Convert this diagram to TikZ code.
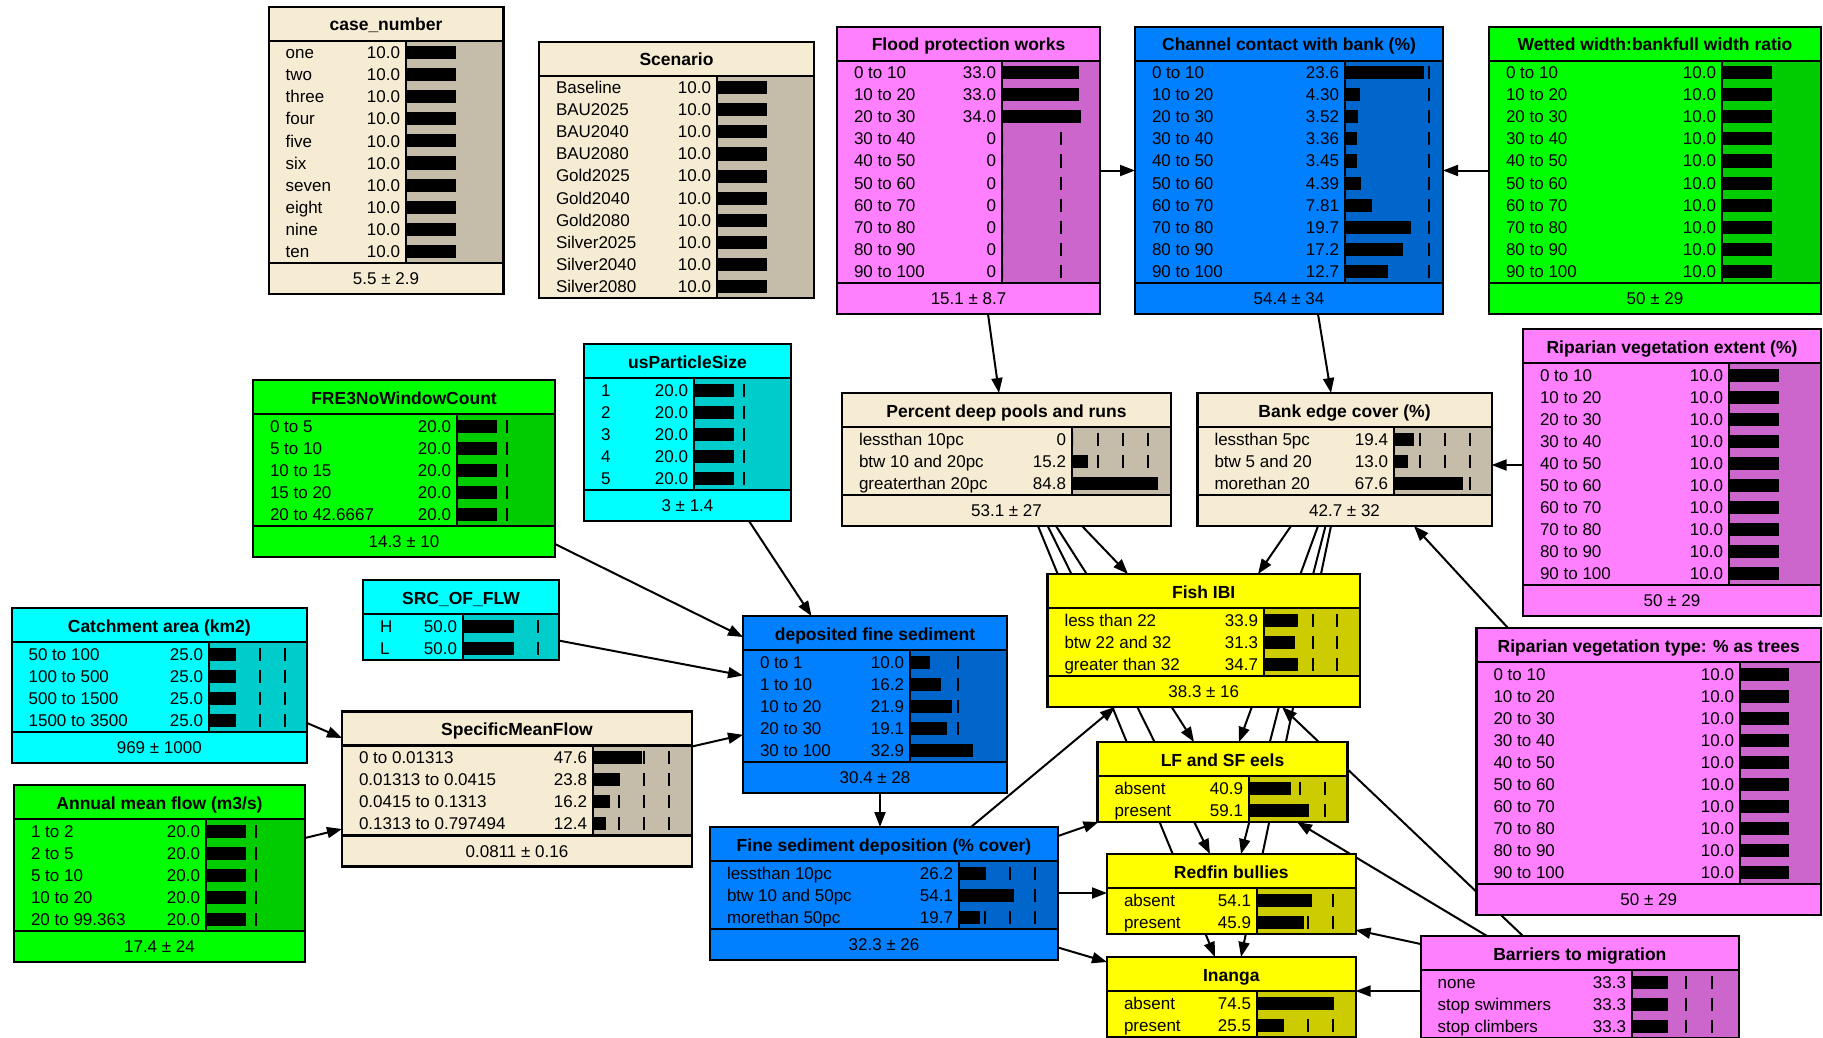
\documentclass[tikz,border=0pt]{standalone}
\usepackage{fontspec}
\setmainfont{Liberation Sans}
\usetikzlibrary{arrows.meta}
\pgfdeclarelayer{bg}
\pgfsetlayers{bg,main}

\definecolor{tanL}{HTML}{F6ECD4}
\definecolor{tanD}{HTML}{C5BDAA}
\definecolor{magL}{HTML}{FF80FF}
\definecolor{magD}{HTML}{CC66CC}
\definecolor{bluL}{HTML}{0080FF}
\definecolor{bluD}{HTML}{0066CC}
\definecolor{grnL}{HTML}{00FF00}
\definecolor{grnD}{HTML}{00CC00}
\definecolor{cyaL}{HTML}{00FFFF}
\definecolor{cyaD}{HTML}{00CCCC}
\definecolor{yelL}{HTML}{FFFF00}
\definecolor{yelD}{HTML}{CCCC00}

\pgfkeys{/bn/.cd,
 left/.store in=\bnL, top/.store in=\bnT, right/.store in=\bnR, div/.store in=\bnD,
 scale/.store in=\bnS, n/.store in=\bnN, fc/.store in=\bnF, dc/.store in=\bnDC,
 title/.store in=\bnTitle, foot/.store in=\bnFoot}

\tikzset{
 bntext/.style={inner sep=0pt, outer sep=0pt, font=\fontsize{17}{19}\selectfont},
 bntitle/.style={inner sep=0pt, outer sep=0pt, font=\fontsize{17.5}{19}\selectfont\bfseries, anchor=base},
 bnline/.style={line width=2.2pt},
 bngrid/.style={line width=2pt, dash pattern=on 13pt off 9pt, dash phase=16.5pt},
 bnframe/.style={draw, line width=2.2pt, inner sep=0pt, outer sep=0pt, fill=none},
 conn/.style={line width=2pt, -{Triangle[length=15pt,width=11pt]}}
}

\newcommand\bnnode[3]{%
 \def\bnFoot{}%
 \pgfkeys{/bn/.cd, #2}%
 \pgfmathsetmacro\bnTS{\bnT+34}%
 \pgfmathsetmacro\bnBB{\bnTS+22*\bnN+2}%
 \ifx\bnFoot\empty \let\bnB\bnBB \else \pgfmathsetmacro\bnB{\bnBB+31}\fi
 \pgfmathsetmacro\bnW{\bnR-\bnL}%
 \pgfmathsetmacro\bnH{\bnB-\bnT}%
 \pgfmathsetmacro\bnCX{(\bnL+\bnR)/2}%
 \pgfmathsetmacro\bnCY{(\bnT+\bnB)/2}%
 \fill[\bnF] (\bnL,\bnT) rectangle (\bnR,\bnB);
 \fill[\bnDC] (\bnD,\bnTS) rectangle (\bnR,\bnBB);
 \foreach \lab/\val [count=\i from 0] in {#3} {%
   \pgfmathsetmacro\yy{\bnTS+12+22*\i}%
   \node[bntext, anchor=base west] at (\bnL+17,\yy+6) {\lab};
   \node[bntext, anchor=base east] at (\bnD-6,\yy+6) {\val};
   \fill[black] (\bnD+1,\yy-6.5) rectangle ({\bnD+1+\bnS*\val},\yy+6.5);
 }%
 \foreach \g in {25,50,75} {%
   \pgfmathsetmacro\gx{\bnS*\g}%
   \pgfmathtruncatemacro\ok{(\gx < \bnR-\bnD-5) ? 1 : 0}%
   \ifnum\ok=1 \draw[bngrid] (\bnD+1+\gx,\bnTS) -- (\bnD+1+\gx,\bnBB);\fi
 }%
 \node[bntitle] at (\bnCX,\bnT+24) {\bnTitle};
 \draw[bnline] (\bnL,\bnTS) -- (\bnR,\bnTS);
 \draw[bnline] (\bnD,\bnTS) -- (\bnD,\bnBB);
 \ifx\bnFoot\empty\else
   \draw[bnline] (\bnL,\bnBB) -- (\bnR,\bnBB);
   \node[bntext, anchor=base] at (\bnCX,\bnBB+21.5) {\bnFoot};
 \fi
 \node[bnframe, minimum width=\bnW pt, minimum height=\bnH pt] (#1) at (\bnCX,\bnCY) {};
}

\begin{document}
\begin{tikzpicture}[x=1pt,y=-1pt]
\begin{pgfonlayer}{bg}
\fill[white] (0,0) rectangle (1823,1038);
\end{pgfonlayer}
\useasboundingbox (0,0) rectangle (1823,1038);

\bnnode{case}{left=268.6,top=7,right=503.4,div=406,scale=4.87,n=10,fc=tanL,dc=tanD,title=case\_number,foot=5.5 ± 2.9}
 {one/10.0,two/10.0,three/10.0,four/10.0,five/10.0,six/10.0,seven/10.0,eight/10.0,nine/10.0,ten/10.0}

\bnnode{scen}{left=539,top=42,right=814,div=717,scale=4.9,n=10,fc=tanL,dc=tanD,title=Scenario}
 {Baseline/10.0,BAU2025/10.0,BAU2040/10.0,BAU2080/10.0,Gold2025/10.0,Gold2040/10.0,Gold2080/10.0,Silver2025/10.0,Silver2040/10.0,Silver2080/10.0}

\bnnode{flood}{left=837,top=27,right=1100,div=1002,scale=2.3,n=10,fc=magL,dc=magD,title=Flood protection works,foot=15.1 ± 8.7}
 {0 to 10/33.0,10 to 20/33.0,20 to 30/34.0,30 to 40/0,40 to 50/0,50 to 60/0,60 to 70/0,70 to 80/0,80 to 90/0,90 to 100/0}

\bnnode{chan}{left=1135,top=27,right=1443,div=1345,scale=3.3,n=10,fc=bluL,dc=bluD,title=Channel contact with bank (\%),foot=54.4 ± 34}
 {0 to 10/23.6,10 to 20/4.30,20 to 30/3.52,30 to 40/3.36,40 to 50/3.45,50 to 60/4.39,60 to 70/7.81,70 to 80/19.7,80 to 90/17.2,90 to 100/12.7}

\bnnode{wet}{left=1489,top=27,right=1821,div=1722,scale=4.9,n=10,fc=grnL,dc=grnD,title=Wetted width:bankfull width ratio,foot=50 ± 29}
 {0 to 10/10.0,10 to 20/10.0,20 to 30/10.0,30 to 40/10.0,40 to 50/10.0,50 to 60/10.0,60 to 70/10.0,70 to 80/10.0,80 to 90/10.0,90 to 100/10.0}

\bnnode{uspart}{left=584,top=344,right=791,div=694,scale=1.95,n=5,fc=cyaL,dc=cyaD,title=usParticleSize,foot=3 ± 1.4}
 {1/20.0,2/20.0,3/20.0,4/20.0,5/20.0}

\bnnode{fre3}{left=253,top=380,right=555,div=457,scale=1.95,n=5,fc=grnL,dc=grnD,title=FRE3NoWindowCount,foot=14.3 ± 10}
 {0 to 5/20.0,5 to 10/20.0,10 to 15/20.0,15 to 20/20.0,20 to 42.6667/20.0}

\bnnode{src}{left=363,top=580,right=559,div=463,scale=0.98,n=2,fc=cyaL,dc=cyaD,title=SRC\_OF\_FLW}
 {H/50.0,L/50.0}

\bnnode{catchm}{left=11.6,top=608,right=307,div=209,scale=1.0,n=4,fc=cyaL,dc=cyaD,title=Catchment area (km2),foot=969 ± 1000}
 {50 to 100/25.0,100 to 500/25.0,500 to 1500/25.0,1500 to 3500/25.0}

\bnnode{annual}{left=14,top=785,right=305,div=206,scale=1.95,n=5,fc=grnL,dc=grnD,title=Annual mean flow (m3/s),foot=17.4 ± 24}
 {1 to 2/20.0,2 to 5/20.0,5 to 10/20.0,10 to 20/20.0,20 to 99.363/20.0}

\bnnode{smf}{left=342,top=711.5,right=692,div=593,scale=1.0,n=4,fc=tanL,dc=tanD,title=SpecificMeanFlow,foot=0.0811 ± 0.16}
 {0 to 0.01313/47.6,0.01313 to 0.0415/23.8,0.0415 to 0.1313/16.2,0.1313 to 0.797494/12.4}

\bnnode{dep}{left=743,top=616,right=1007,div=910,scale=1.88,n=5,fc=bluL,dc=bluD,title=deposited fine sediment,foot=30.4 ± 28}
 {0 to 1/10.0,1 to 10/16.2,10 to 20/21.9,20 to 30/19.1,30 to 100/32.9}

\bnnode{fsd}{left=710,top=827,right=1058,div=959,scale=1.0,n=3,fc=bluL,dc=bluD,title=Fine sediment deposition (\% cover),foot=32.3 ± 26}
 {lessthan 10pc/26.2,btw 10 and 50pc/54.1,morethan 50pc/19.7}

\bnnode{pools}{left=842,top=393,right=1171,div=1072,scale=1.0,n=3,fc=tanL,dc=tanD,title=Percent deep pools and runs,foot=53.1 ± 27}
 {lessthan 10pc/0,btw 10 and 20pc/15.2,greaterthan 20pc/84.8}

\bnnode{bank}{left=1197.5,top=393,right=1491.6,div=1394,scale=1.0,n=3,fc=tanL,dc=tanD,title=Bank edge cover (\%),foot=42.7 ± 32}
 {lessthan 5pc/19.4,btw 5 and 20/13.0,morethan 20/67.6}

\bnnode{ripext}{left=1523,top=329,right=1821,div=1729,scale=4.9,n=10,fc=magL,dc=magD,title=Riparian vegetation extent (\%),foot=50 ± 29}
 {0 to 10/10.0,10 to 20/10.0,20 to 30/10.0,30 to 40/10.0,40 to 50/10.0,50 to 60/10.0,60 to 70/10.0,70 to 80/10.0,80 to 90/10.0,90 to 100/10.0}

\bnnode{riptype}{left=1476.5,top=628,right=1821,div=1740,scale=4.8,n=10,fc=magL,dc=magD,title=Riparian vegetation type: \% as trees,foot=50 ± 29}
 {0 to 10/10.0,10 to 20/10.0,20 to 30/10.0,30 to 40/10.0,40 to 50/10.0,50 to 60/10.0,60 to 70/10.0,70 to 80/10.0,80 to 90/10.0,90 to 100/10.0}

\bnnode{fish}{left=1047.5,top=574,right=1360,div=1264,scale=0.96,n=3,fc=yelL,dc=yelD,title=Fish IBI,foot=38.3 ± 16}
 {less than 22/33.9,btw 22 and 32/31.3,greater than 32/34.7}

\bnnode{eels}{left=1097.5,top=742,right=1347.5,div=1249,scale=1.0,n=2,fc=yelL,dc=yelD,title=LF and SF eels}
 {absent/40.9,present/59.1}

\bnnode{redfin}{left=1107,top=854,right=1355.6,div=1257,scale=1.0,n=2,fc=yelL,dc=yelD,title=Redfin bullies}
 {absent/54.1,present/45.9}

\bnnode{inanga}{left=1107,top=957,right=1355.6,div=1257,scale=1.0,n=2,fc=yelL,dc=yelD,title=Inanga}
 {absent/74.5,present/25.5}

\bnnode{barriers}{left=1420.7,top=936,right=1739,div=1632,scale=1.05,n=3,fc=magL,dc=magD,title=Barriers to migration}
 {none/33.3,stop swimmers/33.3,stop climbers/33.3}

\begin{pgfonlayer}{bg}
\draw[conn] (flood.east) -- (chan.west);
\draw[conn] (wet.west) -- (chan.east);
\draw[conn] ([xshift=151pt]flood.south west) -- ([xshift=157pt]pools.north west);
\draw[conn] ([xshift=183pt]chan.south west) -- ([xshift=133.5pt]bank.north west);
\draw[conn] ([yshift=-136pt]ripext.north west) -- ([yshift=-72pt]bank.north east);
\draw[conn] ([xshift=31.5pt]riptype.north west) -- ([xshift=216.5pt]bank.south west);
\draw[conn] ([yshift=-164pt]fre3.north east) -- ([yshift=-21pt]dep.north west);
\draw[conn] ([xshift=165pt]uspart.south west) -- ([xshift=68.5pt]dep.north west);
\draw[conn] ([yshift=-60.6pt]src.north east) -- ([yshift=-59.5pt]dep.north west);
\draw[conn] ([yshift=-35pt]smf.north east) -- ([yshift=-118.8pt]dep.north west);
\draw[conn] ([yshift=-115pt]catchm.north east) -- ([yshift=-26.5pt]smf.north west);
\draw[conn] ([yshift=-53pt]annual.north east) -- ([yshift=-117.5pt]smf.north west);
\draw[conn] ([xshift=137pt]dep.south west) -- ([xshift=170pt]fsd.north west);
\draw[conn] ([xshift=261pt]fsd.north west) -- ([xshift=67.5pt]fish.south west);
\draw[conn] ([yshift=-9pt]fsd.north east) -- ([xshift=1pt]eels.south west);
\draw[conn] ([yshift=-66pt]fsd.north east) -- ([yshift=-39pt]redfin.north west);
\draw[conn] ([yshift=-120.5pt]fsd.north east) -- ([yshift=-5pt]inanga.north west);
\draw[conn] ([xshift=240pt]pools.south west) -- ([xshift=80.5pt]fish.north west);
\draw[conn] ([xshift=196pt]pools.south west) -- ([xshift=108pt]inanga.north west);
\draw[conn] ([xshift=205.7pt]pools.south west) -- ([xshift=103pt]redfin.north west);
\draw[conn] ([xshift=214pt]pools.south west) -- ([xshift=96.5pt]eels.north west);
\draw[conn] ([xshift=93.5pt]bank.south west) -- ([xshift=210.5pt]fish.north west);
\draw[conn] ([xshift=120.5pt]bank.south west) -- ([xshift=141.5pt]eels.north west);
\draw[conn] ([xshift=128pt]bank.south west) -- ([xshift=134pt]redfin.north west);
\draw[conn] ([xshift=133.5pt]bank.south west) -- ([xshift=134pt]inanga.north west);
\draw[conn] ([xshift=102.3pt]barriers.north west) -- ([xshift=234.5pt]fish.south west);
\draw[conn] ([xshift=66.3pt]barriers.north west) -- ([xshift=199.5pt]eels.south west);
\draw[conn] ([yshift=-8pt]barriers.north west) -- ([yshift=-76pt]redfin.north east);
\draw[conn] ([yshift=-55pt]barriers.north west) -- ([yshift=-34pt]inanga.north east);
\end{pgfonlayer}
\end{tikzpicture}
\end{document}
